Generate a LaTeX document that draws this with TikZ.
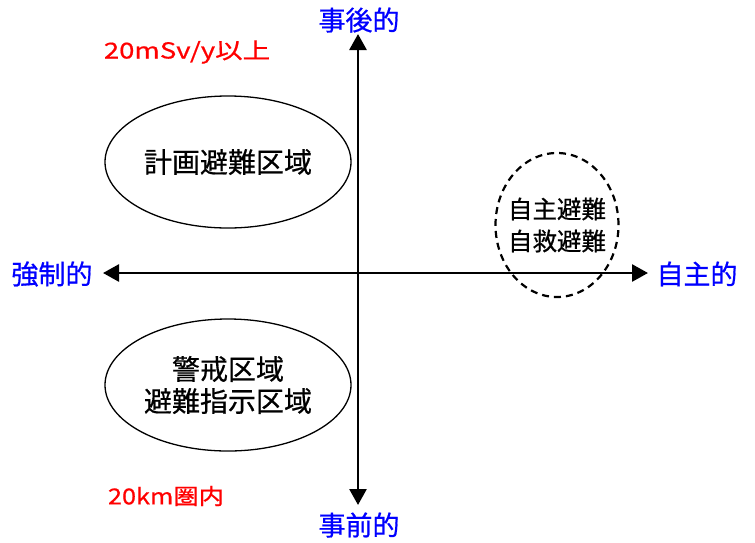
\documentclass[tikz,border=0pt]{standalone}
\usepackage{fontspec}
\newfontfamily\jp[FakeBold=0.6]{Noto Sans CJK JP}
\usetikzlibrary{arrows.meta,shapes.geometric}
\definecolor{lblblue}{RGB}{0,0,255}
\definecolor{lblred}{RGB}{255,0,0}
\tikzset{
  axis/.style={line width=2.7pt,{Triangle[width=17pt,length=16pt]}-{Triangle[width=17pt,length=16pt]}},
  zone/.style={ellipse,draw,line width=1.3pt,minimum width=246pt,minimum height=132pt,inner sep=0pt,align=center,font=\jp\fontsize{28}{32}\selectfont},
  selfzone/.style={ellipse,draw,dashed,dash pattern=on 7pt off 5pt,line width=2.2pt,minimum width=123pt,minimum height=144pt,inner sep=-7pt,align=center,font=\jp\fontsize{24.5}{32}\selectfont},
  axlabel/.style={text=lblblue,inner sep=0pt,font=\jp\fontsize{27}{27}\selectfont},
  rangelabel/.style={text=lblred,inner sep=0pt,font=\jp\fontsize{22}{22}\selectfont},
}
\begin{document}
\begin{tikzpicture}[x=1pt,y=-1pt]
\useasboundingbox (0,0) rectangle (755,542);
\coordinate (L) at (103,273);
\coordinate (R) at (648,273);
\coordinate (T) at (358,34);
\coordinate (B) at (358,505);
\node[zone] (plan) at (228,162) {計画避難区域};
\node[zone] (warn) at (228,385) {警戒区域\\避難指示区域};
\node[selfzone] (self) at (557,225) {自主避難\\自救避難};
\draw[axis] (L) -- (R);
\draw[axis] (B) -- (T);
\node[axlabel] (post) at (359,20) {事後的};
\node[axlabel] (pre) at (359,525) {事前的};
\node[axlabel] (force) at (52,274) {強制的};
\node[axlabel] (vol) at (697,274) {自主的};
\node[rangelabel] (msv) at (187,52) {\scalebox{1.25}[1]{20mSv/y以上}};
\node[rangelabel] (km) at (166,496) {\scalebox{1.15}[1]{20km圏内}};
\end{tikzpicture}
\end{document}
